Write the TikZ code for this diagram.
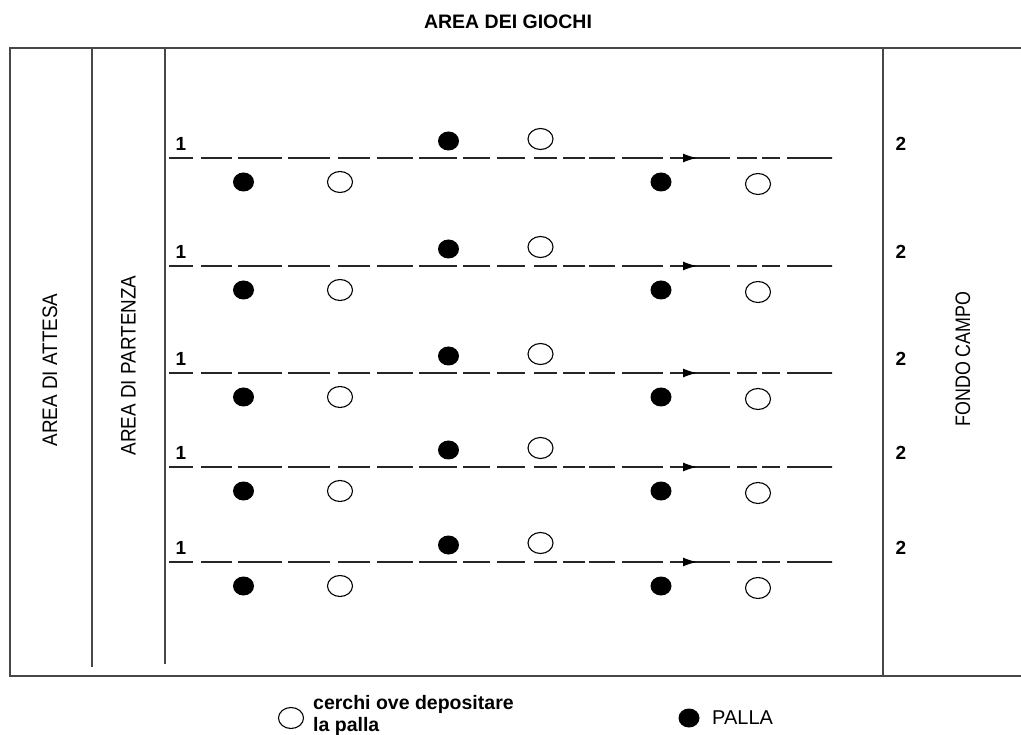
\documentclass[tikz,border=0pt]{standalone}
\usepackage{fontspec}
\setmainfont{Liberation Sans}
\usetikzlibrary{arrows.meta,shapes.geometric}
\tikzset{
  frame/.style={line width=2pt, draw=black!72},
  ball/.style={ellipse, fill=black, minimum width=21pt, minimum height=19pt, inner sep=0pt},
  ring/.style={ellipse, draw=black, line width=1.1pt, fill=white, minimum width=25pt, minimum height=21pt, inner sep=0pt},
  run/.style={line width=1.4pt, draw=black!85, dash pattern=on 24pt off 8pt on 31pt off 6pt on 44pt off 6pt on 42pt off 8pt on 32pt off 7pt on 36pt off 6pt on 38pt off 6pt on 27pt off 7pt on 28pt off 9pt on 23pt off 6pt on 22pt off 4pt on 26pt off 7pt on 41pt off 7pt on 60pt off 7pt on 20pt off 5pt on 18pt off 7pt on 45pt off 0pt},
  tip/.style={line width=1.4pt, -{Latex[length=14pt,width=9pt]}},
  num/.style={font=\fontsize{19}{22}\selectfont\bfseries, inner sep=0pt},
  side/.style={rotate=90, inner sep=0pt},
  title/.style={font=\fontsize{19.5}{23}\selectfont\bfseries, inner sep=0pt},
  legend/.style={font=\fontsize{19.5}{22}\selectfont\bfseries, align=left, inner sep=0pt},
}
\begin{document}
\begin{tikzpicture}[x=1pt,y=-1pt]
\useasboundingbox (0,0) rectangle (1021,735);
% frame
\draw[frame] (1021,48) -- (10,48) -- (10,676) -- (1021,676);
\draw[frame] (92,48) -- (92,667);
\draw[frame] (165,48) -- (165,664);
\draw[frame] (883,48) -- (883,676);
% titles
\node[title] (t) at (508,22) {AREA DEI GIOCHI};
\node[side] (attesa) at (50,370) {\scalebox{0.9}[1]{\fontsize{21}{24}\selectfont AREA DI ATTESA}};
\node[side] (partenza) at (128.5,365.5) {\scalebox{0.9}[1]{\fontsize{21}{24}\selectfont AREA DI PARTENZA}};
\node[side] (fondo) at (963,359) {\scalebox{0.85}[1]{\fontsize{21}{24}\selectfont FONDO CAMPO}};
% rows
\foreach \i/\y in {1/158,2/266,3/373,4/467,5/562}{
  \coordinate (s\i) at (169,\y);
  \coordinate (e\i) at (832,\y);
  \coordinate (a\i) at (683,\y);
  \coordinate (b\i) at (697,\y);
  \draw[run] (s\i) -- (e\i);
  \draw[tip] (a\i) -- (b\i);
  \node[num] (one\i) at (181,\y-14) {1};
  \node[num] (two\i) at (901,\y-14) {2};
  \node[ball] (bu\i) at (448.5,\y-17) {};
  \node[ring] (ru\i) at (540.5,\y-19) {};
  \node[ball] (bl\i) at (243.5,\y+24) {};
  \node[ring] (rl\i) at (340,\y+24) {};
  \node[ball] (br\i) at (661,\y+24) {};
  \node[ring] (rr\i) at (758,\y+26) {};
}
% legend
\node[ring] (lr) at (291,718) {};
\node[legend, anchor=west] (lt) at (313,715) {cerchi ove depositare\\la palla};
\node[ball] (lb) at (689,718) {};
\node[anchor=west, inner sep=0pt, font=\fontsize{20}{22}\selectfont] (lp) at (712,718) {PALLA};
\end{tikzpicture}
\end{document}
